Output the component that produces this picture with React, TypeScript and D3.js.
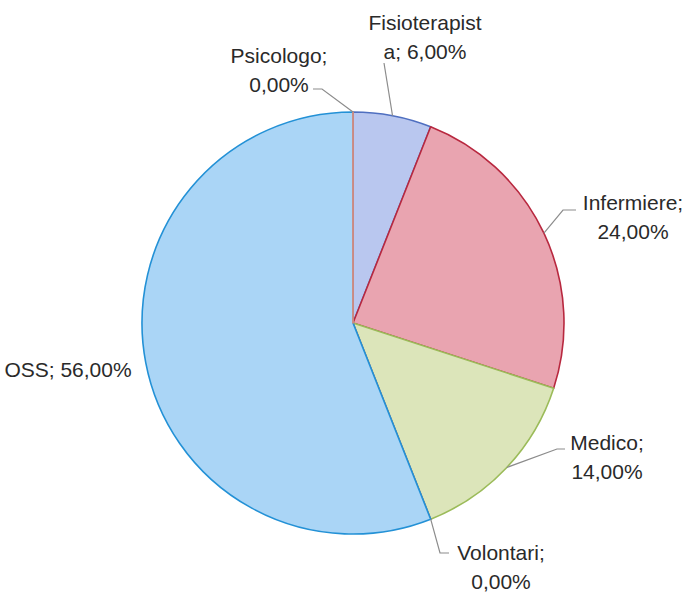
import React from "react";
import * as d3 from "d3";

const categories = ["Fisioterapista", "Infermiere", "Medico", "Volontari", "OSS", "Psicologo"];
const values = [6, 24, 14, 0, 56, 0];
const labelLines = [
  ["Fisioterapist", "a; 6,00%"],
  ["Infermiere;", "24,00%"],
  ["Medico;", "14,00%"],
  ["Volontari;", "0,00%"],
  ["OSS; 56,00%"],
  ["Psicologo;", "0,00%"],
];

const fills = ["#b9c7ef", "#e9a4b0", "#dce5ba", "#c9b8de", "#aad5f6", "#f6c3a8"];
const strokes = ["#4f6fc0", "#b8283f", "#9bbb59", "#8064a2", "#2391d6", "#ee8a72"];

// layout: label anchor (center x, first baseline y), leader elbow & end (null = none)
const labelLayout = [
  { x: 425, y: 30, elbow: null, end: [384, 63] },
  { x: 633, y: 210, elbow: [563, 210], end: [576, 210] },
  { x: 607, y: 450, elbow: [557, 449], end: [565, 449] },
  { x: 501, y: 560, elbow: [440, 553], end: [449, 553] },
  { x: 68, y: 377, elbow: null, end: null },
  { x: 279, y: 63, elbow: [322, 89], end: [313, 89] },
];

export default function App() {
  const W = 691, H = 594;
  const cx = 353, cy = 323, r = 211;
  const pie = d3.pie<number>().value((d) => d).sort(null);
  const arcs = pie(values);
  const arc = d3.arc<d3.PieArcDatum<number>>().innerRadius(0).outerRadius(r);
  const lineGen = d3.line();
  const lineH = 29;
  const order = [0, 1, 2, 3, 4, 5];
  return (
    <svg width={W} height={H} style={{ position: "absolute", left: 0, top: 0, background: "#fff" }}>
      <g transform={`translate(${cx},${cy})`}>
        {order.map((i) => (
          <path
            key={categories[i]}
            d={arc(arcs[i]) || ""}
            fill={fills[i]}
            stroke={strokes[i]}
            strokeWidth={1.6}
            strokeLinejoin="round"
          />
        ))}
      </g>
      {labelLayout.map((L, i) => {
        const a = arcs[i];
        const mid = (a.startAngle + a.endAngle) / 2;
        const sx = cx + r * Math.sin(mid);
        const sy = cy - r * Math.cos(mid);
        const pts: [number, number][] = [[sx, sy]];
        if (L.elbow) pts.push(L.elbow as [number, number]);
        if (L.end) pts.push(L.end as [number, number]);
        return (
          <g key={categories[i]}>
            {L.end && (
              <path d={lineGen(pts) || ""} fill="none" stroke="#8c8c8c" strokeWidth={1.2} />
            )}
            <text
              x={L.x}
              y={L.y}
              textAnchor="middle"
              fontFamily="Liberation Sans, Arial, sans-serif"
              fontSize={21}
              fill="#2a2a2a"
            >
              {labelLines[i].map((t, k) => (
                <tspan key={k} x={L.x} dy={k === 0 ? 0 : lineH}>
                  {t}
                </tspan>
              ))}
            </text>
          </g>
        );
      })}
    </svg>
  );
}
